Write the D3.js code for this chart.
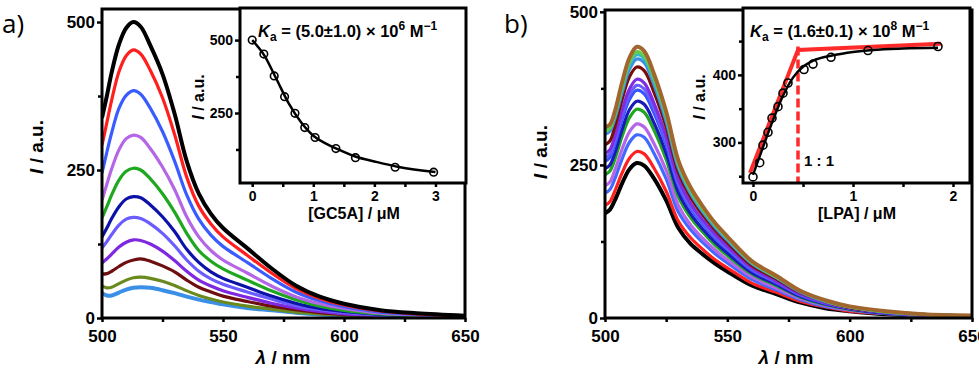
<!DOCTYPE html>
<html>
<head>
<meta charset="utf-8">
<script src="https://cdn.jsdelivr.net/npm/d3@7"></script>
<style>
  body { margin: 0; background: #fff; }
  svg { display: block; font-family: "Liberation Sans", Arial, sans-serif; font-weight: bold; }
</style>
</head>
<body>
<svg width="979" height="370"></svg>
<script>
// wavelength grid, nm
const wl = [500, 502, 504, 507, 510, 513, 516, 520, 525, 530, 535, 540, 545, 550, 560, 570, 580, 590, 600, 615, 630, 650];

// panel a: emission spectra, top curve (no GC5A) first
const specA = [
  [338, 375, 415, 462, 490, 500, 492, 460, 412, 345, 265, 210, 176, 152, 118, 84, 55, 36, 24, 13, 8, 4],
  [292, 330, 368, 416, 443, 453, 446, 418, 372, 310, 238, 189, 159, 137, 106, 76, 50, 33, 22, 12, 7, 3],
  [245, 280, 313, 354, 376, 384, 378, 354, 315, 265, 208, 167, 140, 121, 94, 67, 44, 29, 19, 10, 6, 3],
  [199, 226, 252, 284, 303, 309, 305, 286, 255, 217, 171, 137, 114, 98, 76, 54, 36, 24, 16, 8, 5, 2],
  [169, 188, 208, 233, 248, 253, 250, 235, 210, 179, 143, 114, 96, 83, 64, 46, 31, 20, 13, 7, 4, 2],
  [137, 152, 168, 188, 201, 205, 203, 191, 171, 146, 116, 94, 78, 67, 52, 37, 25, 16, 11, 6, 3, 2],
  [118, 129, 141, 157, 167, 170, 168, 159, 143, 122, 98, 79, 66, 57, 44, 32, 21, 14, 9, 5, 3, 2],
  [93, 100, 108, 120, 128, 132, 131, 125, 113, 97, 79, 64, 54, 46, 35, 25, 17, 11, 7, 4, 2, 1],
  [74, 75, 79, 87, 94, 98, 100, 96, 88, 78, 64, 52, 44, 37, 28, 20, 14, 9, 6, 3, 2, 1],
  [54, 51, 52, 58, 64, 68, 69, 67, 62, 55, 46, 38, 32, 27, 20, 15, 10, 7, 5, 3, 2, 1],
  [42, 38, 38, 43, 48, 51, 52, 51, 47, 42, 36, 31, 27, 23, 17, 13, 9, 6, 4, 2, 1, 1]
];

// panel a inset: titration points and fitted curve
const gc5a = [0, 0.19, 0.36, 0.53, 0.70, 0.86, 1.03, 1.37, 1.69, 2.34, 2.97];
const gc5aI = [500, 452, 377, 306, 249, 200, 166, 128, 97, 64, 47];
const fitAx = [0, 0.2, 0.4, 0.6, 0.8, 1.0, 1.2, 1.4, 1.7, 2.0, 2.4, 3.0];
const fitAy = [500, 447, 365, 282, 218, 172, 146, 126, 100, 84, 65, 48];

// panel b: emission spectra, bottom curve (no LPA) first
const specB = [
  [171, 177, 192, 220, 243, 253, 249, 228, 192, 147, 121, 104, 89, 76, 53, 39, 25, 16, 11, 6, 4, 2],
  [184, 190, 207, 237, 261, 272, 268, 245, 207, 158, 131, 112, 95, 82, 57, 42, 27, 18, 11, 7, 4, 2],
  [204, 210, 227, 260, 287, 299, 295, 269, 227, 173, 144, 123, 105, 90, 63, 46, 30, 19, 13, 7, 4, 2],
  [216, 222, 241, 276, 304, 317, 312, 285, 241, 184, 152, 130, 111, 95, 67, 49, 32, 21, 13, 8, 4, 3],
  [234, 240, 259, 297, 327, 341, 336, 307, 259, 198, 164, 140, 119, 102, 72, 53, 34, 22, 14, 8, 5, 3],
  [244, 250, 269, 308, 340, 354, 349, 319, 269, 205, 170, 145, 124, 106, 74, 55, 35, 23, 15, 8, 5, 3],
  [256, 262, 283, 324, 357, 372, 366, 335, 283, 216, 179, 153, 130, 112, 78, 58, 37, 24, 16, 9, 5, 3],
  [262, 268, 289, 331, 365, 380, 374, 342, 289, 220, 182, 156, 133, 114, 80, 59, 38, 25, 16, 9, 5, 3],
  [269, 275, 296, 339, 374, 390, 384, 351, 296, 226, 187, 160, 137, 117, 82, 60, 39, 25, 16, 9, 5, 3],
  [283, 289, 312, 357, 394, 410, 404, 369, 312, 238, 197, 168, 144, 123, 86, 64, 41, 27, 17, 10, 6, 3],
  [300, 305, 325, 368, 406, 423, 417, 381, 321, 245, 203, 173, 148, 127, 89, 66, 42, 27, 18, 10, 6, 3],
  [310, 314, 332, 374, 413, 430, 424, 387, 327, 249, 206, 176, 151, 129, 90, 67, 43, 28, 18, 10, 6, 3],
  [305, 310, 331, 378, 418, 435, 428, 392, 331, 252, 209, 178, 152, 131, 91, 67, 44, 28, 18, 10, 6, 3],
  [312, 316, 337, 385, 425, 443, 436, 399, 337, 257, 213, 182, 155, 133, 93, 69, 44, 29, 19, 11, 6, 4]
];

// panel b inset
const lpa = [0, 0.067, 0.10, 0.15, 0.19, 0.25, 0.30, 0.35, 0.51, 0.60, 0.78, 1.15, 1.85];
const lpaI = [249, 270, 296, 315, 336, 353, 373, 388, 408, 416, 426, 436, 442];
const fitBx = [0, 0.1, 0.2, 0.3, 0.4, 0.5, 0.6, 0.8, 1.0, 1.2, 1.5, 1.85];
const fitBy = [252, 293, 333, 369, 396, 412, 421, 429, 434, 437, 439, 440];
const tangX = [-0.03, 0.45, 1.88];
const tangY = [255, 437, 446];
const ratioX = 0.45;

// tick labels
const mainXTicks = [500, 550, 600, 650];
const mainYTicksA = [0, 250, 500];
const mainYTicksB = [0, 250, 500];
const insetAXTicks = [0, 1, 2, 3];
const insetAYTicks = [250, 500];
const insetBXTicks = [0, 1, 2];
const insetBYTicks = [300, 400];

const colorsA = ['#000000', '#ff1f1f', '#3a5cff', '#b566e6', '#1fa81f', '#0c12a8',
                 '#6a5cff', '#7e28e0', '#6e0e0e', '#6b8a1e', '#3a8fe6'];
const colorsB = ['#000000', '#ff2020', '#4169ff', '#b565e8', '#1fa51f', '#1a1ab8', '#3355ff',
                 '#6b5bff', '#7d2ee0', '#7a0c0c', '#3b8fe0', '#36b8c8', '#66cc44', '#a0662e'];

const svg = d3.select('svg');
const FONT = '"Liberation Sans", Arial, sans-serif';

function box(x, y) {
  const [x0, x1] = x.range(), [y0, y1] = y.range();
  svg.append('rect')
    .attr('x', x0).attr('y', y1)
    .attr('width', x1 - x0).attr('height', y0 - y1)
    .attr('fill', 'none').attr('stroke', '#000').attr('stroke-width', 3);
}

function axes(x, y, o) {
  const [x0, x1] = x.range(), [y0, y1] = y.range();
  const styl = (g, fs) => {
    g.select('.domain').remove();
    g.selectAll('line').attr('stroke', '#000').attr('stroke-width', 2.5);
    g.selectAll('text').attr('font-size', fs).attr('font-family', FONT)
      .attr('font-weight', 'bold').attr('fill', '#000');
    g.attr('font-family', null).attr('font-size', null);
  };
  svg.append('g').attr('transform', `translate(0,${y0})`)
    .call(d3.axisBottom(x).tickValues(o.xt).tickSize(4).tickPadding(o.xpad).tickFormat(d3.format('d')))
    .call(g => styl(g, o.fs));
  svg.append('g').attr('transform', `translate(0,${y0})`)
    .call(d3.axisBottom(x).tickValues(o.xm).tickSize(4).tickFormat(''))
    .call(g => styl(g, o.fs));
  svg.append('g').attr('transform', `translate(${x0},0)`)
    .call(d3.axisLeft(y).tickValues(o.yt).tickSize(5).tickPadding(2).tickFormat(d3.format('d')))
    .call(g => styl(g, o.fs));
  svg.append('g').attr('transform', `translate(${x0},0)`)
    .call(d3.axisLeft(y).tickValues(o.ym).tickSize(4).tickFormat(''))
    .call(g => styl(g, o.fs));
}

function yTitle(cx, cy, fs) {
  const t = svg.append('text')
    .attr('transform', `translate(${cx},${cy}) rotate(-90)`)
    .attr('text-anchor', 'middle').attr('font-size', fs);
  t.append('tspan').attr('font-style', 'italic').text('I');
  t.append('tspan').text(' / a.u.');
}

function kaText(x, y, val, exp) {
  const t = svg.append('text').attr('x', x).attr('y', y).attr('font-size', 16.5);
  t.append('tspan').attr('font-style', 'italic').text('K');
  t.append('tspan').attr('font-size', 12).attr('dy', 4).text('a');
  t.append('tspan').attr('dy', -4).text(` = (${val}) \u00d7 10`);
  t.append('tspan').attr('font-size', 12).attr('dy', -7).text(exp);
  t.append('tspan').attr('dy', 7).text(' M');
  t.append('tspan').attr('font-size', 12).attr('dy', -7).text('\u22121');
}

function spectra(x, y, data, colors, id, order) {
  svg.append('clipPath').attr('id', id).append('rect')
    .attr('x', x.range()[0]).attr('y', y.range()[1])
    .attr('width', x.range()[1] - x.range()[0]).attr('height', y.range()[0] - y.range()[1]);
  const line = d3.line().x((d, i) => x(wl[i])).y(d => y(d)).curve(d3.curveCatmullRom);
  const g = svg.append('g').attr('clip-path', `url(#${id})`);
  order.forEach(i => {
    g.append('path').attr('d', line(data[i]))
      .attr('fill', 'none').attr('stroke', colors[i])
      .attr('stroke-width', (i === 0 || i === data.length - 1) ? 4 : 3.2)
      .attr('stroke-linejoin', 'round');
  });
}

// ---------- panel a ----------
const xA = d3.scaleLinear().domain([500, 650]).range([102, 465]);
const yA = d3.scaleLinear().domain([0, 522]).range([318, 9]);
spectra(xA, yA, specA, colorsA, 'clipA', d3.range(specA.length).reverse());
box(xA, yA);
axes(xA, yA, { xt: mainXTicks, xm: [525, 575, 625], yt: mainYTicksA, ym: [125, 375], fs: 17, xpad: 8 });
yTitle(43, 147, 19);
const lamA = svg.append('text').attr('x', 283).attr('y', 364).attr('text-anchor', 'middle').attr('font-size', 19);
lamA.append('tspan').attr('font-style', 'italic').text('\u03bb');
lamA.append('tspan').text(' / nm');
svg.append('text').attr('x', 2).attr('y', 33).attr('font-size', 26).attr('font-weight', 'normal')
  .attr('font-family', '"Open Sans", sans-serif').text('a)');

// inset a
const xIA = d3.scaleLinear().domain([-0.2, 3.5]).range([240, 466]);
const yIA = d3.scaleLinear().domain([10, 610]).range([183, 8]);
svg.append('rect').attr('x', 240).attr('y', 8).attr('width', 226).attr('height', 175).attr('fill', '#fff');
const fitLineA = d3.line().x((d, i) => xIA(fitAx[i])).y(d => yIA(d)).curve(d3.curveMonotoneX);
svg.append('path').attr('d', fitLineA(fitAy)).attr('fill', 'none').attr('stroke', '#000').attr('stroke-width', 2.5);
svg.append('g').selectAll('circle').data(gc5aI).join('circle')
  .attr('cx', (d, i) => xIA(gc5a[i])).attr('cy', d => yIA(d)).attr('r', 3.8)
  .attr('fill', 'none').attr('stroke', '#000').attr('stroke-width', 1.6);
box(xIA, yIA);
axes(xIA, yIA, { xt: insetAXTicks, xm: [0.5, 1.5, 2.5], yt: insetAYTicks, ym: [125, 375], fs: 14, xpad: 4 });
yTitle(204, 97, 16);
svg.append('text').attr('x', 354).attr('y', 219).attr('text-anchor', 'middle').attr('font-size', 16)
  .text('[GC5A] / \u03bcM');
kaText(258, 37, '5.0\u00b11.0', '6');

// ---------- panel b ----------
const xB = d3.scaleLinear().domain([500, 650]).range([605, 972]);
const yB = d3.scaleLinear().domain([0, 503]).range([318, 10]);
spectra(xB, yB, specB, colorsB, 'clipB', d3.range(specB.length));
box(xB, yB);
axes(xB, yB, { xt: mainXTicks, xm: [525, 575, 625], yt: mainYTicksB, ym: [125, 375], fs: 17, xpad: 8 });
yTitle(547, 152, 19);
const lamB = svg.append('text').attr('x', 786).attr('y', 364).attr('text-anchor', 'middle').attr('font-size', 19);
lamB.append('tspan').attr('font-style', 'italic').text('\u03bb');
lamB.append('tspan').text(' / nm');
svg.append('text').attr('x', 504).attr('y', 33).attr('font-size', 26).attr('font-weight', 'normal')
  .attr('font-family', '"Open Sans", sans-serif').text('b)');

// inset b
const xIB = d3.scaleLinear().domain([-0.1, 2.17]).range([743, 970]);
const yIB = d3.scaleLinear().domain([240, 499]).range([183, 8]);
svg.append('rect').attr('x', 743).attr('y', 8).attr('width', 227).attr('height', 175).attr('fill', '#fff');
const tang = d3.line().x((d, i) => xIB(tangX[i])).y(d => yIB(d));
svg.append('path').attr('d', tang(tangY)).attr('fill', 'none').attr('stroke', '#ff2a2a').attr('stroke-width', 4);
svg.append('line').attr('x1', xIB(ratioX)).attr('x2', xIB(ratioX))
  .attr('y1', yIB(tangY[1] + 5)).attr('y2', yIB(240))
  .attr('stroke', '#ff2a2a').attr('stroke-width', 3.5).attr('stroke-dasharray', '9,4');
const fitLineB = d3.line().x((d, i) => xIB(fitBx[i])).y(d => yIB(d)).curve(d3.curveMonotoneX);
svg.append('path').attr('d', fitLineB(fitBy)).attr('fill', 'none').attr('stroke', '#000').attr('stroke-width', 2.5);
svg.append('g').selectAll('circle').data(lpaI).join('circle')
  .attr('cx', (d, i) => xIB(lpa[i])).attr('cy', d => yIB(d)).attr('r', 4)
  .attr('fill', 'none').attr('stroke', '#000').attr('stroke-width', 1.6);
box(xIB, yIB);
axes(xIB, yIB, { xt: insetBXTicks, xm: [0.5, 1.5], yt: insetBYTicks, ym: [250, 350, 450], fs: 14, xpad: 4 });
yTitle(705, 97, 16);
svg.append('text').attr('x', 857).attr('y', 219).attr('text-anchor', 'middle').attr('font-size', 16)
  .text('[LPA] / \u03bcM');
svg.append('text').attr('x', 804).attr('y', 166).attr('font-size', 15).text('1 : 1');
kaText(750, 37, '1.6\u00b10.1', '8');
</script>
</body>
</html>
